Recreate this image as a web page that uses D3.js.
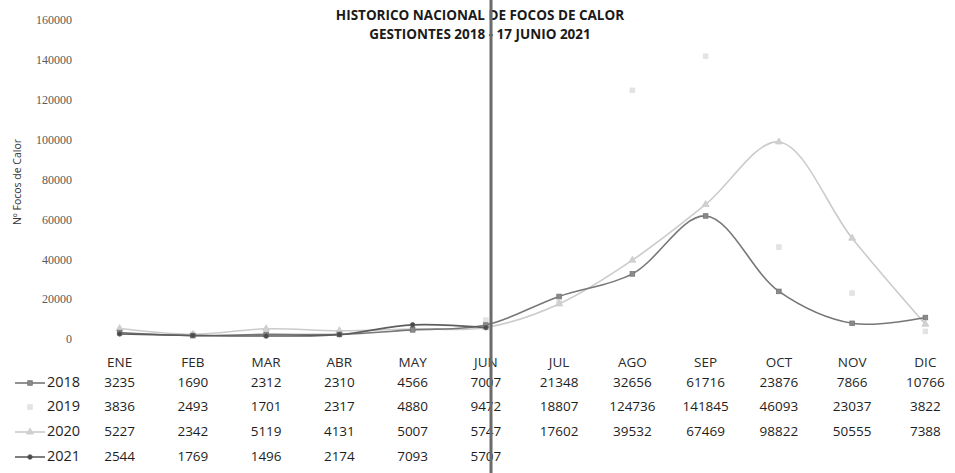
<!DOCTYPE html>
<html>
<head>
<meta charset="utf-8">
<script src="https://cdn.jsdelivr.net/npm/d3@7/dist/d3.min.js"></script>
<style>
  body { margin: 0; background: #fff; }
  svg { display: block; }
</style>
</head>
<body>
<div id="chart"></div>
<script>
// chart data
const months = ['ENE', 'FEB', 'MAR', 'ABR', 'MAY', 'JUN', 'JUL', 'AGO', 'SEP', 'OCT', 'NOV', 'DIC'];
const years = ['2018', '2019', '2020', '2021'];
const values2018 = [3235, 1690, 2312, 2310, 4566, 7007, 21348, 32656, 61716, 23876, 7866, 10766];
const values2019 = [3836, 2493, 1701, 2317, 4880, 9472, 18807, 124736, 141845, 46093, 23037, 3822];
const values2020 = [5227, 2342, 5119, 4131, 5007, 5747, 17602, 39532, 67469, 98822, 50555, 7388];
const values2021 = [2544, 1769, 1496, 2174, 7093, 5707];
const yTicks = [0, 20000, 40000, 60000, 80000, 100000, 120000, 140000, 160000];

const title1 = 'HISTORICO NACIONAL DE FOCOS DE CALOR';
const title2 = 'GESTIONTES 2018 - 17 JUNIO 2021';
const yTitle = 'Nº Focos de Calor';

const width = 955, height = 473;

const series = [
   { name: years[0], values: values2018, stroke: '#777', line: true, marker: 'square', mfill: '#8a8a8a' },
   { name: years[1], values: values2019, stroke: '#e0e0e0', line: false, marker: 'square', mfill: '#e4e4e4' },
   { name: years[2], values: values2020, stroke: '#cbcbcb', line: true, marker: 'triangle', mfill: '#d0d0d0' },
   { name: years[3], values: values2021, stroke: '#5e5e5e', line: true, marker: 'circle', mfill: '#4a4a4a' },
];

const svg = d3.select('#chart')
   .append('svg')
   .attr('width', width)
   .attr('height', height);

const x = d3.scaleBand().domain(months).range([83, 962]);
const y = d3.scaleLinear().domain([0, 160000]).range([339, 20]);
const cx = (m) => x(m) + x.bandwidth() / 2;

// y axis labels
const yAxis = d3.axisLeft(y).tickValues(yTicks).tickFormat(d3.format('d')).tickSize(0).tickPadding(0);
const yAxisG = svg.append('g')
   .attr('transform', 'translate(72,0)')
   .call(yAxis);
yAxisG.select('.domain').remove();
yAxisG.selectAll('text')
   .attr('font-family', 'Liberation Serif, serif')
   .attr('font-size', 12)
   .attr('fill', '#5a5a5a');

svg.append('text')
   .attr('transform', 'translate(18,182) rotate(-90)')
   .attr('text-anchor', 'middle')
   .attr('dominant-baseline', 'middle')
   .attr('font-family', 'Open Sans, sans-serif')
   .attr('font-size', 10.5)
   .attr('fill', '#333')
   .text(yTitle);

// titles
svg.append('text')
   .attr('x', 480).attr('y', 20)
   .attr('text-anchor', 'middle')
   .attr('font-family', 'Open Sans, sans-serif')
   .attr('font-weight', 'bold')
   .attr('font-size', 13.5)
   .attr('fill', '#1a1a1a')
   .text(title1);
svg.append('text')
   .attr('x', 480).attr('y', 39)
   .attr('text-anchor', 'middle')
   .attr('font-family', 'Open Sans, sans-serif')
   .attr('font-weight', 'bold')
   .attr('font-size', 13.5)
   .attr('fill', '#1a1a1a')
   .text(title2);

// lines
const line = d3.line()
   .x((d, i) => cx(months[i]))
   .y((d) => y(d))
   .curve(d3.curveCatmullRom.alpha(0.5));

const plot = svg.append('g');

function drawMarker(g, type, px, py, fill, stroke, s) {
   if (type === 'square') {
      g.append('rect')
         .attr('x', px - s).attr('y', py - s)
         .attr('width', s * 2).attr('height', s * 2)
         .attr('fill', fill).attr('stroke', stroke).attr('stroke-width', 0.8);
   } else if (type === 'triangle') {
      g.append('path')
         .attr('d', d3.symbol().type(d3.symbolTriangle).size(s * s * 4)())
         .attr('transform', `translate(${px},${py})`)
         .attr('fill', fill).attr('stroke', stroke).attr('stroke-width', 0.8);
   } else {
      g.append('circle')
         .attr('cx', px).attr('cy', py).attr('r', s)
         .attr('fill', fill).attr('stroke', stroke).attr('stroke-width', 0.8);
   }
}

// draw order: lightest first
[1, 2, 0, 3].forEach((k) => {
   const s = series[k];
   const g = plot.append('g');
   if (s.line) {
      g.append('path')
         .datum(s.values)
         .attr('d', line)
         .attr('fill', 'none')
         .attr('stroke', s.stroke)
         .attr('stroke-width', 1.6);
   }
   s.values.forEach((v, i) => {
      drawMarker(g, s.marker, cx(months[i]), y(v), s.mfill, s.stroke, 2.3);
   });
});

// data table
const rowY = [363, 383, 407, 432, 457];
const tableFont = 'Open Sans, sans-serif';

svg.append('g').selectAll('text')
   .data(months)
   .join('text')
   .attr('x', (m) => cx(m))
   .attr('y', rowY[0])
   .attr('text-anchor', 'middle')
   .attr('dominant-baseline', 'middle')
   .attr('font-family', tableFont)
   .attr('font-size', 13.5)
   .attr('fill', '#2a2a2a')
   .text((m) => m);

series.forEach((s, k) => {
   const ry = rowY[k + 1];
   const g = svg.append('g');
   // legend key
   if (s.line) {
      g.append('line')
         .attr('x1', 15).attr('x2', 45)
         .attr('y1', ry).attr('y2', ry)
         .attr('stroke', s.stroke).attr('stroke-width', 1.6);
   }
   drawMarker(g, s.marker, 30, ry, s.mfill, s.stroke, 2.3);
   g.append('text')
      .attr('x', 47).attr('y', ry)
      .attr('dominant-baseline', 'middle')
      .attr('font-family', tableFont)
      .attr('font-size', 14.5)
      .attr('fill', '#1e1e1e')
      .text(s.name);
   g.selectAll('.val')
      .data(s.values)
      .join('text')
      .attr('class', 'val')
      .attr('x', (d, i) => cx(months[i]))
      .attr('y', ry)
      .attr('text-anchor', 'middle')
      .attr('dominant-baseline', 'middle')
      .attr('font-family', tableFont)
      .attr('font-size', 13.5)
      .attr('fill', '#1e1e1e')
      .text((d) => d);
});

// fold line from the scanned page
svg.append('rect')
   .attr('x', 489.5).attr('y', 0)
   .attr('width', 3).attr('height', height)
   .attr('fill', '#6b6b6b');
</script>
</body>
</html>
